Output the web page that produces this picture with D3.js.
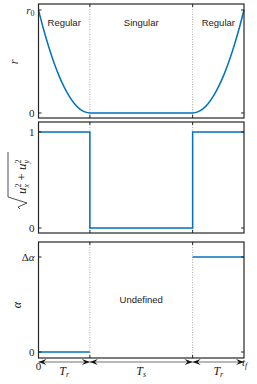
<!DOCTYPE html>
<html>
<head>
<meta charset="utf-8">
<script src="https://cdn.jsdelivr.net/npm/d3@7"></script>
<style>
  body { margin: 0; background: #fff; }
  svg { display: block; }
  .math { font-family: "Liberation Serif", "DejaVu Serif", serif; }
  .txt { font-family: "Liberation Sans", Arial, sans-serif; }
</style>
</head>
<body>
<div id="chart"></div>
<script>
// phase boundaries: 0, Tr, Tr+Ts, tf
const edges = [0, 1, 3, 4];
const phaseNames = ["Regular", "Singular", "Regular"];
const spanSub = ["r", "s", "r"];

// r(t)
const rTime = [0, 0.1, 0.2, 0.3, 0.4, 0.5, 0.6, 0.7, 0.8, 0.9, 1,
  3, 3.1, 3.2, 3.3, 3.4, 3.5, 3.6, 3.7, 3.8, 3.9, 4];
const rValue = [1, 0.81, 0.64, 0.49, 0.36, 0.25, 0.16, 0.09, 0.04, 0.01, 0,
  0, 0.01, 0.04, 0.09, 0.16, 0.25, 0.36, 0.49, 0.64, 0.81, 1];

// sqrt(ux^2+uy^2), a step signal
const uTime = [0, 1, 1, 3, 3, 4];
const uValue = [1, 1, 0, 0, 1, 1];

// alpha, only defined in the regular phases
const alphaStart = [0, 3];
const alphaEnd = [1, 4];
const alphaValue = [0, 1];

const width = 257, height = 384;
const left = 38.5, right = 244;
const blue = "#0072BD", axisColor = "#262626";

const svg = d3.select("#chart").append("svg")
  .attr("width", width)
  .attr("height", height);

const x = d3.scaleLinear().domain([0, 4]).range([left, right]);

const panels = [
  {top: 4, bottom: 118, domain: [-0.049, 1.058], ticks: [0, 1], labels: ["0", "r0"]},
  {top: 122, bottom: 233, domain: [-0.052, 1.104], ticks: [0, 1], labels: ["0", "1"]},
  {top: 242, bottom: 358, domain: [-0.063, 1.158], ticks: [0, 1], labels: ["0", "Δα"]}
];

panels.forEach(p => {
  p.y = d3.scaleLinear().domain(p.domain).range([p.bottom, p.top]);
  const g = svg.append("g");
  p.g = g;

  // dotted phase separators
  g.selectAll(".sep")
    .data(edges.slice(1, 3))
    .enter().append("line")
    .attr("x1", d => x(d)).attr("x2", d => x(d))
    .attr("y1", p.top).attr("y2", p.bottom)
    .attr("stroke", "#aaa")
    .attr("stroke-width", 1)
    .attr("stroke-dasharray", "1,1.5");
});

// top panel: r
const p1 = panels[0];
p1.g.append("path")
  .datum(rTime.map((t, i) => [t, rValue[i]]))
  .attr("fill", "none")
  .attr("stroke", blue)
  .attr("stroke-width", 1.5)
  .attr("d", d3.line().x(d => x(d[0])).y(d => p1.y(d[1])).curve(d3.curveMonotoneX));

p1.g.selectAll(".phase")
  .data(phaseNames)
  .enter().append("text")
  .attr("class", "txt")
  .attr("x", (d, i) => (x(edges[i]) + x(edges[i + 1])) / 2)
  .attr("y", 26)
  .attr("text-anchor", "middle")
  .attr("font-size", 9.5)
  .attr("fill", "#222")
  .text(d => d);

// middle panel: u
const p2 = panels[1];
p2.g.append("path")
  .datum(uTime.map((t, i) => [t, uValue[i]]))
  .attr("fill", "none")
  .attr("stroke", blue)
  .attr("stroke-width", 1.5)
  .attr("d", d3.line().x(d => x(d[0])).y(d => p2.y(d[1])));

// bottom panel: alpha
const p3 = panels[2];
p3.g.selectAll(".seg")
  .data(alphaValue)
  .enter().append("line")
  .attr("x1", (d, i) => x(alphaStart[i]))
  .attr("x2", (d, i) => x(alphaEnd[i]))
  .attr("y1", d => p3.y(d))
  .attr("y2", d => p3.y(d))
  .attr("stroke", blue)
  .attr("stroke-width", 1.5);

p3.g.append("text")
  .attr("class", "txt")
  .attr("x", (x(edges[1]) + x(edges[2])) / 2)
  .attr("y", 303)
  .attr("text-anchor", "middle")
  .attr("font-size", 9.5)
  .attr("fill", "#222")
  .text("Undefined");

// boxes, ticks and tick labels
panels.forEach(p => {
  const g = p.g;
  g.append("rect")
    .attr("x", left).attr("y", p.top)
    .attr("width", right - left).attr("height", p.bottom - p.top)
    .attr("fill", "none")
    .attr("stroke", axisColor)
    .attr("stroke-width", 1.2);

  p.ticks.forEach((t, i) => {
    const yy = p.y(t);
    g.append("line").attr("x1", left).attr("x2", left + 3)
      .attr("y1", yy).attr("y2", yy).attr("stroke", axisColor);
    g.append("line").attr("x1", right).attr("x2", right - 3)
      .attr("y1", yy).attr("y2", yy).attr("stroke", axisColor);
    const lab = p.labels[i];
    const tx = g.append("text")
      .attr("class", "math")
      .attr("x", left - 4)
      .attr("y", yy + 4)
      .attr("text-anchor", "end")
      .attr("font-size", 11)
      .attr("fill", "#222");
    if (lab === "r0") {
      tx.append("tspan").attr("font-style", "italic").text("r");
      tx.append("tspan").attr("font-size", 8).attr("dy", 2).text("0");
    } else if (lab === "Δα") {
      tx.append("tspan").text("Δ");
      tx.append("tspan").attr("font-style", "italic").text("α");
    } else {
      tx.text(lab);
    }
  });

  edges.slice(1, 3).forEach(t => {
    g.append("line").attr("x1", x(t)).attr("x2", x(t))
      .attr("y1", p.top).attr("y2", p.top + 3).attr("stroke", axisColor);
    g.append("line").attr("x1", x(t)).attr("x2", x(t))
      .attr("y1", p.bottom).attr("y2", p.bottom - 3).attr("stroke", axisColor);
  });
});

// y labels
svg.append("text")
  .attr("class", "math")
  .attr("transform", "translate(18,62) rotate(-90)")
  .attr("text-anchor", "middle")
  .attr("font-size", 12)
  .attr("font-style", "italic")
  .attr("fill", "#222")
  .text("r");

svg.append("text")
  .attr("class", "math")
  .attr("transform", "translate(21,305) rotate(-90)")
  .attr("text-anchor", "middle")
  .attr("font-size", 12)
  .attr("font-style", "italic")
  .attr("fill", "#222")
  .text("α");

// sqrt(ux^2 + uy^2) label, rotated
const sq = svg.append("g").attr("transform", "translate(17,173) rotate(-90)");
sq.append("path")
  .attr("d", "M-36,3 L-34,1 L-30,10 L-24,-9 L21,-9")
  .attr("fill", "none")
  .attr("stroke", "#222")
  .attr("stroke-width", 0.8);
const st = sq.append("text")
  .attr("class", "math")
  .attr("x", -21)
  .attr("y", 9)
  .attr("font-size", 13)
  .attr("fill", "#222");
st.append("tspan").attr("font-style", "italic").text("u");
st.append("tspan").attr("font-size", 8).attr("dy", -5).text("2");
st.append("tspan").attr("font-size", 8).attr("font-style", "italic").attr("dx", -4).attr("dy", 8).text("x");
st.append("tspan").attr("dy", -3).text(" + ");
st.append("tspan").attr("font-style", "italic").text("u");
st.append("tspan").attr("font-size", 8).attr("dy", -5).text("2");
st.append("tspan").attr("font-size", 8).attr("font-style", "italic").attr("dx", -4).attr("dy", 8).text("y");

// time-span arrows under the bottom panel
const arrowY = 362;
const head = (tipX, dir) => {
  const L = 8, W = 3, N = 5;
  return "M" + tipX + "," + arrowY +
    " L" + (tipX - dir * L) + "," + (arrowY - W) +
    " L" + (tipX - dir * N) + "," + arrowY +
    " L" + (tipX - dir * L) + "," + (arrowY + W) + " Z";
};
const spans = d3.range(3);
svg.selectAll(".span")
  .data(spans)
  .enter().append("line")
  .attr("x1", i => x(edges[i])).attr("x2", i => x(edges[i + 1]))
  .attr("y1", arrowY).attr("y2", arrowY)
  .attr("stroke", "#a0a0a0")
  .attr("stroke-width", 1.5);
spans.forEach(i => {
  svg.append("path").attr("d", head(x(edges[i]), -1)).attr("fill", "#111");
  svg.append("path").attr("d", head(x(edges[i + 1]), 1)).attr("fill", "#111");
  const t = svg.append("text")
    .attr("class", "math")
    .attr("x", (x(edges[i]) + x(edges[i + 1])) / 2)
    .attr("y", 375)
    .attr("text-anchor", "middle")
    .attr("font-size", 12)
    .attr("fill", "#222");
  t.append("tspan").attr("font-style", "italic").text("T");
  t.append("tspan").attr("font-style", "italic").attr("font-size", 8).attr("dy", 2).text(spanSub[i]);
});

svg.append("text")
  .attr("class", "math")
  .attr("x", x(edges[0]))
  .attr("y", 370)
  .attr("text-anchor", "middle")
  .attr("font-size", 11)
  .attr("fill", "#222")
  .text("0");

const tf = svg.append("text")
  .attr("class", "math")
  .attr("x", x(edges[3]) - 2)
  .attr("y", 366)
  .attr("font-size", 11)
  .attr("fill", "#222");
tf.append("tspan").attr("font-style", "italic").text("t");
tf.append("tspan").attr("font-style", "italic").attr("font-size", 8).attr("dy", 2).text("f");
</script>
</body>
</html>
